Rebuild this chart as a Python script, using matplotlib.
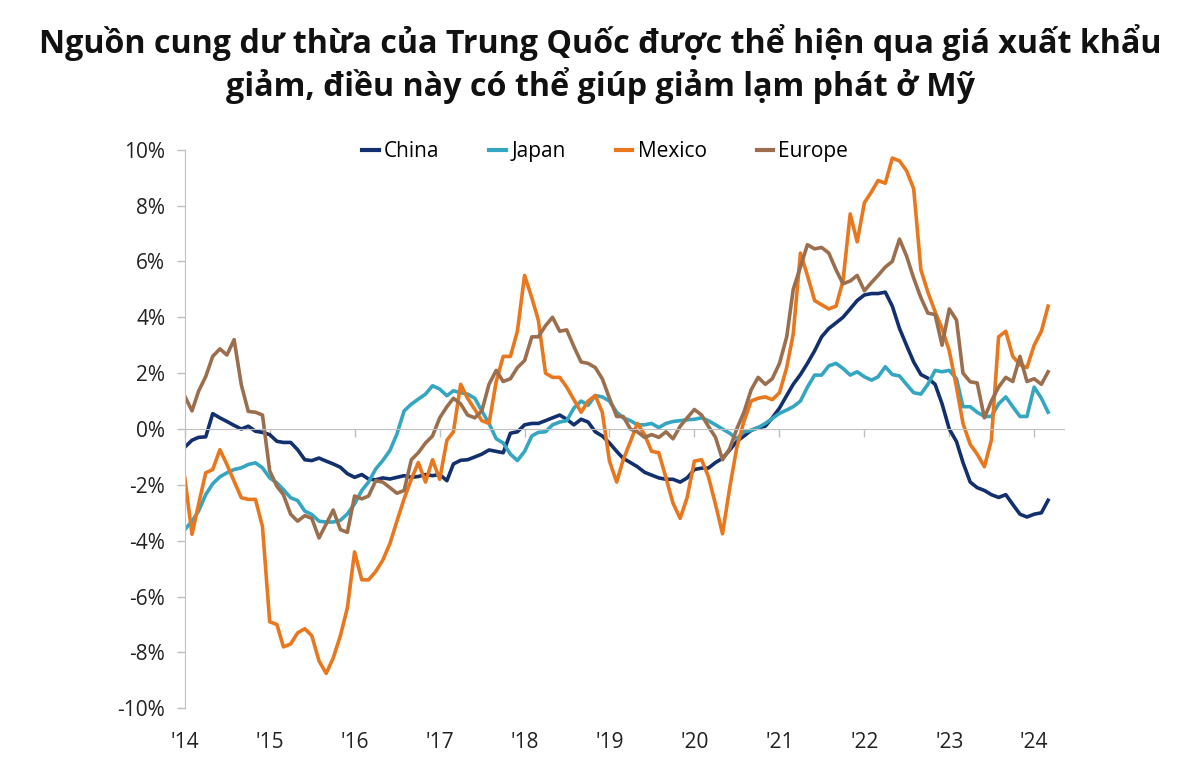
import numpy as np
import pandas as pd
import matplotlib
matplotlib.use("Agg")
from matplotlib import pyplot as plt
from matplotlib.ticker import FuncFormatter

# monthly export price change, % y/y, Jan 2014 - Mar 2024
months = pd.date_range("2014-01-01", periods=123, freq="MS")

china = [
    -0.65, -0.4, -0.3, -0.28, 0.55, 0.4, 0.27, 0.13, 0.0, 0.1, -0.08, -0.12,
    -0.2, -0.44, -0.48, -0.48, -0.74, -1.1, -1.13, -1.04, -1.15, -1.25, -1.37, -1.6,
    -1.73, -1.63, -1.79, -1.82, -1.75, -1.79, -1.73, -1.67, -1.73, -1.7, -1.63, -1.67,
    -1.63, -1.85, -1.25, -1.12, -1.1, -1.0, -0.9, -0.75, -0.8, -0.85, -0.15, -0.1,
    0.15, 0.2, 0.2, 0.3, 0.4, 0.5, 0.35, 0.15, 0.35, 0.25, -0.1, -0.25,
    -0.5, -0.8, -1.05, -1.2, -1.35, -1.55, -1.65, -1.75, -1.8, -1.8, -1.9, -1.75,
    -1.45, -1.4, -1.4, -1.2, -1.05, -0.75, -0.45, -0.25, -0.05, 0.05, 0.1, 0.4,
    0.75, 1.2, 1.6, 1.95, 2.35, 2.8, 3.3, 3.6, 3.8, 4.0, 4.3, 4.6,
    4.8, 4.85, 4.85, 4.9, 4.4, 3.6, 3.0, 2.4, 1.95, 1.82, 1.6, 0.9,
    0.0, -0.45, -1.2, -1.9, -2.1, -2.2, -2.35, -2.45, -2.35, -2.7, -3.05, -3.15,
    -3.05, -3.0, -2.55,
]

japan = [
    -3.6, -3.3, -2.94, -2.35, -1.96, -1.71, -1.57, -1.45, -1.39, -1.27, -1.21, -1.39,
    -1.75, -1.93, -2.17, -2.46, -2.56, -2.94, -3.06, -3.3, -3.33, -3.33, -3.27, -3.04,
    -2.68, -2.2, -1.9, -1.43, -1.13, -0.77, -0.18, 0.65, 0.89, 1.07, 1.25, 1.55,
    1.43, 1.19, 1.37, 1.3, 1.25, 1.1, 0.65, 0.2, -0.35, -0.5, -0.9, -1.13,
    -0.8, -0.25, -0.12, -0.1, 0.15, 0.25, 0.3, 0.75, 1.0, 0.85, 1.2, 1.15,
    1.0, 0.6, 0.4, 0.3, 0.15, 0.15, 0.2, 0.05, 0.2, 0.27, 0.3, 0.33,
    0.35, 0.4, 0.3, 0.15, 0.0, -0.15, -0.35, -0.1, -0.05, 0.05, 0.2, 0.38,
    0.56, 0.68, 0.8, 1.0, 1.5, 1.93, 1.93, 2.26, 2.35, 2.17, 1.93, 2.05,
    1.87, 1.75, 1.87, 2.23, 1.95, 1.9, 1.6, 1.3, 1.25, 1.6, 2.1, 2.05,
    2.1, 1.8, 0.8, 0.8, 0.6, 0.45, 0.45, 0.9, 1.15, 0.8, 0.45, 0.45,
    1.5, 1.1, 0.6,
]

mexico = [
    -1.75, -3.77, -2.7, -1.57, -1.45, -0.74, -1.27, -1.87, -2.46, -2.52, -2.52, -3.5,
    -6.9, -7.0, -7.8, -7.7, -7.3, -7.15, -7.4, -8.3, -8.75, -8.2, -7.4, -6.4,
    -4.4, -5.4, -5.4, -5.1, -4.7, -4.1, -3.3, -2.5, -1.8, -1.2, -1.9, -1.1,
    -1.8, -0.4, -0.1, 1.6, 1.1, 0.7, 0.3, 0.2, 1.7, 2.6, 2.6, 3.5,
    5.5, 4.7, 3.9, 2.0, 1.85, 1.85, 1.5, 1.05, 0.6, 1.0, 1.2, 0.6,
    -1.15, -1.9, -1.1, -0.45, 0.2, -0.2, -0.8, -0.85, -1.75, -2.65, -3.2, -2.45,
    -1.15, -1.1, -1.7, -2.7, -3.75, -2.1, -0.68, 0.27, 1.0, 1.1, 1.15, 1.05,
    1.3, 2.2, 3.4, 6.3, 5.5, 4.6, 4.45, 4.3, 4.4, 5.3, 7.7, 6.7,
    8.1, 8.5, 8.9, 8.8, 9.7, 9.6, 9.25, 8.6, 5.7, 4.9, 4.2, 3.6,
    2.8, 1.5, 0.2, -0.55, -0.9, -1.35, -0.4, 3.3, 3.5, 2.6, 2.3, 2.2,
    3.0, 3.5, 4.4,
]

europe = [
    1.17, 0.65, 1.35, 1.88, 2.6, 2.87, 2.65, 3.2, 1.58, 0.63, 0.6, 0.5,
    -1.5, -2.05, -2.35, -3.05, -3.3, -3.1, -3.2, -3.9, -3.4, -2.9, -3.6, -3.7,
    -2.4, -2.5, -2.4, -1.85, -1.9, -2.1, -2.3, -2.2, -1.1, -0.85, -0.5, -0.25,
    0.4, 0.8, 1.1, 0.9, 0.5, 0.4, 0.65, 1.6, 2.1, 1.7, 1.8, 2.2,
    2.45, 3.3, 3.3, 3.7, 4.0, 3.5, 3.55, 2.95, 2.4, 2.35, 2.2, 1.8,
    1.1, 0.45, 0.45, 0.0, -0.1, -0.3, -0.2, -0.3, -0.1, -0.35, 0.1, 0.4,
    0.7, 0.5, 0.1, -0.3, -1.1, -0.7, 0.0, 0.6, 1.4, 1.85, 1.6, 1.8,
    2.35, 3.3, 5.0, 5.8, 6.6, 6.45, 6.5, 6.3, 5.7, 5.2, 5.3, 5.5,
    4.95, 5.25, 5.5, 5.8, 6.0, 6.8, 6.2, 5.4, 4.7, 4.15, 4.1, 3.0,
    4.3, 3.9, 2.0, 1.69, 1.65, 0.4, 1.0, 1.5, 1.85, 1.7, 2.6, 1.7,
    1.8, 1.6, 2.05,
]

series = ["China", "Japan", "Mexico", "Europe"]
colors = ["#13306e", "#35a6c2", "#e8771e", "#9b6f4e"]
years = [str(y) for y in range(2014, 2025)]
year_labels = ["'" + y[2:] for y in years]
yticks = list(range(-10, 11, 2))

title = ("Nguồn cung dư thừa của Trung Quốc được thể hiện qua giá xuất khẩu\n"
         "giảm, điều này có thể giúp giảm lạm phát ở Mỹ")

plt.rcParams["font.family"] = ["Open Sans", "DejaVu Sans"]

fig = plt.figure(figsize=(12, 7.6), dpi=100)
ax = fig.add_axes([0.154, 0.068, 0.733, 0.735])

grey = "#bfbfbf"
for name, vals, c in zip(series, [china, japan, mexico, europe], colors):
    ax.plot(months, vals, color=c, lw=2.6, label=name, solid_joinstyle="round")

ax.set_ylim(-10, 10)
ax.set_xlim(months[0], pd.Timestamp("2024-05-10"))
ax.set_yticks(yticks)
ax.yaxis.set_major_formatter(FuncFormatter(lambda v, p: f"{v:.0f}%"))

year_pos = [pd.Timestamp(y + "-01-01") for y in years]

# main x axis sits on the zero line: ticks only
ax.set_xticks(year_pos)
ax.spines["bottom"].set_position(("data", 0))
ax.spines["bottom"].set_color(grey)
ax.tick_params(axis="x", length=6, width=1, color=grey, labelbottom=False)

for s in ["top", "right"]:
    ax.spines[s].set_visible(False)
ax.spines["left"].set_color(grey)
ax.tick_params(axis="y", colors=grey, length=6, width=1, labelcolor="#222222",
               labelsize=15, pad=8)

# year labels along the bottom of the plot
lab = ax.secondary_xaxis("bottom")
lab.set_xticks(year_pos)
lab.set_xticklabels(year_labels)
lab.spines["bottom"].set_visible(False)
lab.tick_params(axis="x", length=0, labelcolor="#222222", labelsize=15, pad=17)

leg = ax.legend(ncol=4, loc="center", bbox_to_anchor=(0.478, 0.996), frameon=False,
                fontsize=15, handlelength=0.8, handletextpad=0.25, columnspacing=2.4)
for h in leg.get_lines():
    h.set_linewidth(3)

fig.text(0.5, 0.968, title, ha="center", va="top", fontsize=23.2, fontweight="bold",
         color="#111111", linespacing=1.2)

fig.savefig("out.png", dpi=100)
